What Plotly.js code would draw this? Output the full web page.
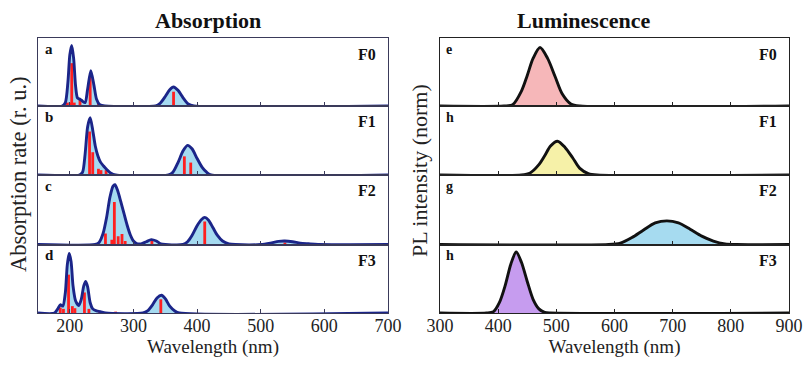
<!DOCTYPE html>
<html><head><meta charset="utf-8">
<script src="https://cdn.plot.ly/plotly-3.0.1.min.js"></script>
<style>html,body{margin:0;padding:0;background:#fff}</style>
</head><body><div id="chart" style="width:806px;height:365px"></div>
<script>
// ---------- text ----------
const absLabels = ['a', 'b', 'c', 'd'];
const lumLabels = ['e', 'h', 'g', 'h'];
const fLabels = ['F0', 'F1', 'F2', 'F3'];
const absTicks = [200, 300, 400, 500, 600, 700];
const lumTicks = [300, 400, 500, 600, 700, 800, 900];

// ---------- absorption envelopes (nm, relative rate) ----------
const absF0_nm = [150, 188, 193, 197, 200, 203, 206, 209, 212, 216, 220, 224, 228, 233, 238, 242, 247, 255, 335, 342, 350, 357, 363, 370, 378, 386, 395, 700];
const absF0_y  = [0,   0,   0.05,0.35,0.75,0.89,0.70,0.30,0.12,0.10,0.07,0.05,0.25,0.52,0.30,0.10,0.02,0,   0,   0.04,0.14,0.24,0.28,0.23,0.12,0.03,0,   0];
const absF1_nm = [150, 215, 220, 224, 228, 232, 236, 240, 244, 248, 253, 258, 264, 272, 355, 362, 370, 378, 385, 392, 400, 408, 415, 422, 700];
const absF1_y  = [0,   0,   0.04,0.30,0.70,0.83,0.65,0.42,0.28,0.19,0.13,0.08,0.03,0,   0,   0.04,0.18,0.35,0.43,0.38,0.24,0.11,0.04,0,   0];
const absF2_nm = [150, 240, 246, 252, 258, 263, 268, 271, 275, 280, 285, 290, 295, 300, 306, 312, 320, 328, 336, 343, 350, 378, 385, 392, 400, 407, 412, 418, 425, 432, 440, 450, 460, 500, 515, 528, 538, 550, 562, 575, 590, 700];
const absF2_y  = [0,   0,   0.03,0.15,0.40,0.68,0.84,0.86,0.78,0.62,0.45,0.28,0.14,0.05,0.01,0.01,0.04,0.07,0.05,0.01,0,   0,   0.04,0.13,0.27,0.36,0.39,0.35,0.24,0.13,0.05,0.01,0,   0,   0.02,0.045,0.05,0.04,0.02,0.01,0,  0];
const absF3_nm = [150, 176, 181, 185, 189, 193, 196, 199, 202, 205, 209, 214, 218, 222, 225, 228, 232, 236, 242, 248, 256, 315, 322, 330, 337, 344, 350, 357, 365, 372, 700];
const absF3_y  = [0,   0,   0.06,0.12,0.10,0.30,0.70,0.87,0.75,0.40,0.18,0.11,0.20,0.40,0.46,0.38,0.15,0.06,0.03,0.02,0,   0,   0.03,0.12,0.22,0.26,0.21,0.10,0.03,0,   0];

// ---------- oscillator sticks ----------
const stkF0_nm = [196, 200, 203, 207, 216, 232, 245, 363];
const stkF0_y  = [0.05, 0.05, 0.63, 0.05, 0.10, 0.43, 0.04, 0.21];
const stkF1_nm = [231, 236, 245, 249, 257, 380, 390];
const stkF1_y  = [0.63, 0.33, 0.09, 0.07, 0.07, 0.27, 0.18];
const stkF2_nm = [256, 266, 270, 276, 282, 287, 329, 412, 538];
const stkF2_y  = [0.16, 0.07, 0.61, 0.12, 0.15, 0.05, 0.06, 0.33, 0.03];
const stkF3_nm = [185, 190, 198, 204, 208, 223, 230, 247, 272, 343];
const stkF3_y  = [0.08, 0.06, 0.56, 0.10, 0.07, 0.30, 0.06, 0.03, 0.02, 0.20];

// ---------- luminescence (nm, normalized) ----------
const plF0_nm = [300, 410, 425, 440, 450, 460, 472, 485, 498, 510, 525, 540, 900];
const plF0_y  = [0,   0,   0.02,0.22,0.45,0.70,0.86,0.70,0.43,0.18,0.03,0,   0];
const plF1_nm = [300, 440, 455, 470, 480, 490, 502, 515, 528, 540, 555, 570, 900];
const plF1_y  = [0,   0,   0.03,0.15,0.28,0.42,0.49,0.40,0.25,0.10,0.02,0,   0];
const plF2_nm = [300, 590, 610, 630, 650, 670, 690, 710, 730, 750, 770, 790, 810, 900];
const plF2_y  = [0,   0,   0.02,0.10,0.21,0.31,0.34,0.31,0.22,0.12,0.05,0.01,0,   0];
const plF3_nm = [300, 380, 392, 402, 412, 422, 431, 440, 450, 460, 470, 480, 490, 900];
const plF3_y  = [0,   0,   0.02,0.15,0.40,0.72,0.89,0.74,0.46,0.20,0.06,0.01,0,   0];

const absX = [absF0_nm, absF1_nm, absF2_nm, absF3_nm];
const absY = [absF0_y, absF1_y, absF2_y, absF3_y];
const stkX = [stkF0_nm, stkF1_nm, stkF2_nm, stkF3_nm];
const stkY = [stkF0_y, stkF1_y, stkF2_y, stkF3_y];
const plX = [plF0_nm, plF1_nm, plF2_nm, plF3_nm];
const plY = [plF0_y, plF1_y, plF2_y, plF3_y];
const plFill = ['#f6b7b9', '#f6f1a8', '#a6dbf0', '#c69cef'];

const W = 806, H = 365;
const FONT = 'Liberation Serif, Times New Roman, serif';
const rows = [[38, 106], [106, 175], [175, 244.5], [244.5, 313]];
const leftDom = [38 / W, 388 / W];
const rightDom = [440 / W, 789 / W];
const px = v => v / W, py = v => 1 - v / H;

const traces = [];
const layout = {
  width: W, height: H, margin: {l: 0, r: 0, t: 0, b: 0},
  paper_bgcolor: '#fff', plot_bgcolor: '#fff', showlegend: false,
  font: {family: FONT, color: '#111'},
  annotations: []
};

function axisDefs(idx, dom, row, range, ticks, color, bottom) {
  const xs = 'xaxis' + idx, ys = 'yaxis' + idx;
  layout[xs] = {
    domain: dom, anchor: 'y' + idx, range: range, showgrid: false, zeroline: false,
    showline: true, mirror: true, linecolor: color, linewidth: 1,
    ticks: 'inside', ticklen: 4, tickwidth: 1, tickcolor: color,
    tickmode: 'array', tickvals: ticks, ticktext: ticks.map(String),
    showticklabels: bottom, tickfont: {family: FONT, size: 18, color: '#222'},
    ticklabelstandoff: -4
  };
  if (bottom) layout[xs].title = {text: 'Wavelength (nm)', font: {family: FONT, size: 19, color: '#222'}, standoff: 4};
  layout[ys] = {
    domain: [py(row[1]), py(row[0])], anchor: 'x' + idx, range: [0, 1],
    showgrid: false, zeroline: false, showticklabels: false, ticks: '',
    showline: true, mirror: true, linecolor: color, linewidth: 1
  };
}

for (let i = 0; i < 4; i++) {
  const a = i + 1, b = i + 5;
  axisDefs(a, leftDom, rows[i], [150, 700], absTicks, '#3a3a5a', i === 3);
  axisDefs(b, rightDom, rows[i], [300, 900], lumTicks, '#222', i === 3);

  // absorption fill
  traces.push({type: 'scatter', mode: 'lines', x: absX[i], y: absY[i], xaxis: 'x' + a, yaxis: 'y' + a,
    line: {width: 0, shape: 'spline', smoothing: 0.7}, fill: 'tozeroy', fillcolor: '#a5daf0', hoverinfo: 'skip'});
  // sticks
  traces.push({type: 'scatter', mode: 'lines', xaxis: 'x' + a, yaxis: 'y' + a,
    x: stkX[i].flatMap(v => [v, v, null]), y: stkY[i].flatMap(v => [0, v, null]),
    line: {color: '#ff1f1f', width: 2.8}, hoverinfo: 'skip'});
  // absorption envelope line
  traces.push({type: 'scatter', mode: 'lines', x: absX[i], y: absY[i], xaxis: 'x' + a, yaxis: 'y' + a,
    line: {color: '#1b2589', width: 2.9, shape: 'spline', smoothing: 0.7}, hoverinfo: 'skip'});
  // luminescence
  traces.push({type: 'scatter', mode: 'lines', x: plX[i], y: plY[i], xaxis: 'x' + b, yaxis: 'y' + b,
    line: {color: '#111', width: 2.9, shape: 'spline', smoothing: 0.8}, fill: 'tozeroy', fillcolor: plFill[i], hoverinfo: 'skip'});

  // panel labels
  layout.annotations.push({xref: 'paper', yref: 'paper', x: px(43), y: py(rows[i][0] + 11), xanchor: 'left', yanchor: 'middle',
    text: '<b>' + absLabels[i] + '</b>', showarrow: false, font: {family: FONT, size: 15, color: '#111'}});
  layout.annotations.push({xref: 'paper', yref: 'paper', x: px(378), y: py(rows[i][0] + 16), xanchor: 'right', yanchor: 'middle',
    text: '<b>' + fLabels[i] + '</b>', showarrow: false, font: {family: FONT, size: 16, color: '#111'}});
  layout.annotations.push({xref: 'paper', yref: 'paper', x: px(444), y: py(rows[i][0] + 11), xanchor: 'left', yanchor: 'middle',
    text: '<b>' + lumLabels[i] + '</b>', showarrow: false, font: {family: FONT, size: 14, color: '#111'}});
  layout.annotations.push({xref: 'paper', yref: 'paper', x: px(779), y: py(rows[i][0] + 16), xanchor: 'right', yanchor: 'middle',
    text: '<b>' + fLabels[i] + '</b>', showarrow: false, font: {family: FONT, size: 16, color: '#111'}});
}

// titles
layout.annotations.push({xref: 'paper', yref: 'paper', x: px(207.5), y: py(21), xanchor: 'center', yanchor: 'middle',
  text: '<b>Absorption</b>', showarrow: false, font: {family: FONT, size: 22, color: '#111'}});
layout.annotations.push({xref: 'paper', yref: 'paper', x: px(583), y: py(21), xanchor: 'center', yanchor: 'middle',
  text: '<b>Luminescence</b>', showarrow: false, font: {family: FONT, size: 22, color: '#111'}});
// y titles
layout.annotations.push({xref: 'paper', yref: 'paper', x: px(18), y: py(174), xanchor: 'center', yanchor: 'middle', textangle: -90,
  text: 'Absorption rate (r. u.)', showarrow: false, font: {family: FONT, size: 22.5, color: '#222'}});
layout.annotations.push({xref: 'paper', yref: 'paper', x: px(419), y: py(171), xanchor: 'center', yanchor: 'middle', textangle: -90,
  text: 'PL intensity (norm)', showarrow: false, font: {family: FONT, size: 22, color: '#222'}});

Plotly.newPlot('chart', traces, layout, {staticPlot: true, displayModeBar: false});
</script></body></html>
